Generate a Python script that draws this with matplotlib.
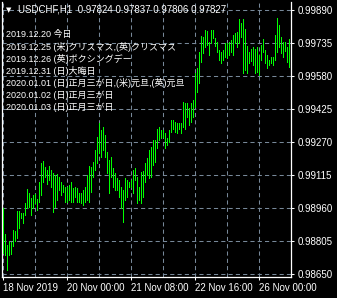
import numpy as np
import matplotlib
matplotlib.use("Agg")
import matplotlib.pyplot as plt

# USDCHF H1 bars, high / low
highs = [
    0.98960, 0.98838, 0.98786, 0.98805, 0.98800, 0.98857, 0.98852, 0.98946,
    0.98946, 0.98937, 0.98937, 0.98984, 0.99049, 0.99030, 0.99007, 0.99021,
    0.99026, 0.99002, 0.99082, 0.99171, 0.99181, 0.99153, 0.99138, 0.99157,
    0.99138, 0.99124, 0.99115, 0.99120, 0.99106, 0.99082, 0.99068, 0.99059,
    0.99059, 0.99068, 0.99082, 0.99054, 0.99059, 0.99054, 0.99030, 0.99030,
    0.99045, 0.99059, 0.99115, 0.99157, 0.99153, 0.99176, 0.99232, 0.99293,
    0.99359, 0.99326, 0.99340, 0.99303, 0.99223, 0.99185, 0.99200, 0.99148,
    0.99124, 0.99101, 0.99091, 0.99059, 0.99045, 0.99101, 0.99091, 0.99082,
    0.99091, 0.99138, 0.99148, 0.99106, 0.99059, 0.99129, 0.99134, 0.99171,
    0.99195, 0.99232, 0.99246, 0.99279, 0.99279, 0.99331, 0.99340, 0.99326,
    0.99326, 0.99312, 0.99289, 0.99326, 0.99373, 0.99373, 0.99364, 0.99359,
    0.99359, 0.99359, 0.99458, 0.99453, 0.99453, 0.99430, 0.99453, 0.99467,
    0.99594, 0.99618, 0.99693, 0.99768, 0.99763, 0.99796, 0.99791, 0.99740,
    0.99796, 0.99796, 0.99758, 0.99740, 0.99702, 0.99693, 0.99702, 0.99735,
    0.99735, 0.99740, 0.99749, 0.99773, 0.99782, 0.99787, 0.99848, 0.99829,
    0.99848, 0.99801, 0.99721, 0.99693, 0.99707, 0.99716, 0.99707, 0.99716,
    0.99679, 0.99726, 0.99754, 0.99702, 0.99679, 0.99655, 0.99669, 0.99669,
    0.99773, 0.99852, 0.99820, 0.99763, 0.99740, 0.99740, 0.99716, 0.99754,
]
lows = [
    0.98749, 0.98739, 0.98669, 0.98739, 0.98745, 0.98782, 0.98805, 0.98819,
    0.98866, 0.98913, 0.98890, 0.98927, 0.98960, 0.98965, 0.98927, 0.98960,
    0.98984, 0.98951, 0.98988, 0.99021, 0.99082, 0.99106, 0.99073, 0.99091,
    0.99059, 0.98941, 0.98965, 0.98998, 0.99045, 0.99021, 0.99035, 0.98988,
    0.98988, 0.98998, 0.98988, 0.98988, 0.99012, 0.98988, 0.98988, 0.98984,
    0.98974, 0.98988, 0.98998, 0.98988, 0.99035, 0.99106, 0.99138, 0.99171,
    0.99218, 0.99200, 0.99232, 0.99200, 0.99124, 0.99030, 0.99106, 0.99059,
    0.99045, 0.99045, 0.99012, 0.98960, 0.98894, 0.98998, 0.99012, 0.99059,
    0.99059, 0.99030, 0.99091, 0.98984, 0.98998, 0.98984, 0.99012, 0.99082,
    0.99115, 0.99101, 0.99106, 0.99162, 0.99176, 0.99242, 0.99279, 0.99289,
    0.99293, 0.99242, 0.99256, 0.99270, 0.99317, 0.99331, 0.99317, 0.99312,
    0.99331, 0.99312, 0.99340, 0.99331, 0.99387, 0.99350, 0.99364, 0.99387,
    0.99434, 0.99505, 0.99547, 0.99646, 0.99688, 0.99716, 0.99726, 0.99679,
    0.99735, 0.99758, 0.99721, 0.99693, 0.99655, 0.99641, 0.99655, 0.99669,
    0.99665, 0.99679, 0.99693, 0.99679, 0.99735, 0.99716, 0.99735, 0.99763,
    0.99594, 0.99608, 0.99594, 0.99641, 0.99650, 0.99632, 0.99594, 0.99599,
    0.99585, 0.99655, 0.99693, 0.99641, 0.99618, 0.99632, 0.99641, 0.99632,
    0.99655, 0.99693, 0.99716, 0.99688, 0.99669, 0.99697, 0.99646, 0.99622,
]

price_ticks = [0.98650, 0.98805, 0.98960, 0.99115, 0.99270,
               0.99425, 0.99580, 0.99735, 0.99890]
time_tick_bars = [0, 32, 64, 96, 128]
time_labels = ["18 Nov 2019", "20 Nov 00:00", "21 Nov 08:00",
               "22 Nov 16:00", "26 Nov 00:00"]
grid_bars = [16, 48, 80, 112]

header = "USDCHF,H1  0.97824 0.97837 0.97806 0.97827"
events = [
    "2019.12.20 今日",
    "2019.12.25 (米)クリスマス,(英)クリスマス",
    "2019.12.26 (英)ボクシングデー",
    "2019.12.31 (日)大晦日",
    "2020.01.01 (日)正月三が日,(米)元旦,(英)元旦",
    "2020.01.02 (日)正月三が日",
    "2020.01.03 (日)正月三が日",
]

plt.rcParams['font.family'] = ['Liberation Sans', 'Noto Sans CJK JP', 'DejaVu Sans']

W, H = 337, 298
fig = plt.figure(figsize=(W / 100, H / 100), dpi=100)
fig.patch.set_facecolor('black')
ax = fig.add_axes([2 / W, 21 / H, 289 / W, 275 / H])
ax.set_facecolor('black')

# price bars (1px high-low lines)
bars = np.arange(len(highs))
ax.vlines(bars, lows, highs, colors='#00ff00', linewidth=0.5, antialiased=False, zorder=3)

ax.set_xlim(-0.5, 144)
ax.set_ylim(0.98636, 0.99928)

# grid
grid_col = '#778899'
ax.set_yticks(price_ticks)
ax.set_yticklabels(["%.5f" % p for p in price_ticks])
ax.set_xticks(time_tick_bars)
ax.set_xticklabels(time_labels)
ax.set_xticks(grid_bars, minor=True)
ax.grid(True, which='both', color=grid_col, linestyle=(0, (4, 3)), linewidth=0.75, zorder=1)

ax.yaxis.tick_right()
ax.tick_params(axis='y', colors='white', length=2.5, width=0.75, pad=2, labelsize=7)
ax.tick_params(axis='x', which='major', colors='white', length=2.5, width=0.75, pad=2, labelsize=7)
ax.tick_params(axis='x', which='minor', length=0)
for lbl in ax.get_xticklabels():
    lbl.set_ha('left')

for side in ['left', 'bottom', 'right']:
    ax.spines[side].set_color('white')
    ax.spines[side].set_linewidth(0.9)
ax.spines['top'].set_visible(False)

# header and event notes
fig.text(6 / W, 1 - 10 / H, "▼", color='white', fontsize=5, va='center', family='DejaVu Sans')
fig.text(18 / W, 1 - 10 / H, header, color='white', fontsize=7, va='center')
for k, line in enumerate(events):
    fig.text(6 / W, 1 - (35 + k * 12.1) / H, line, color='white', fontsize=6.5, va='center')

fig.savefig('out.png', dpi=100, facecolor='black')
